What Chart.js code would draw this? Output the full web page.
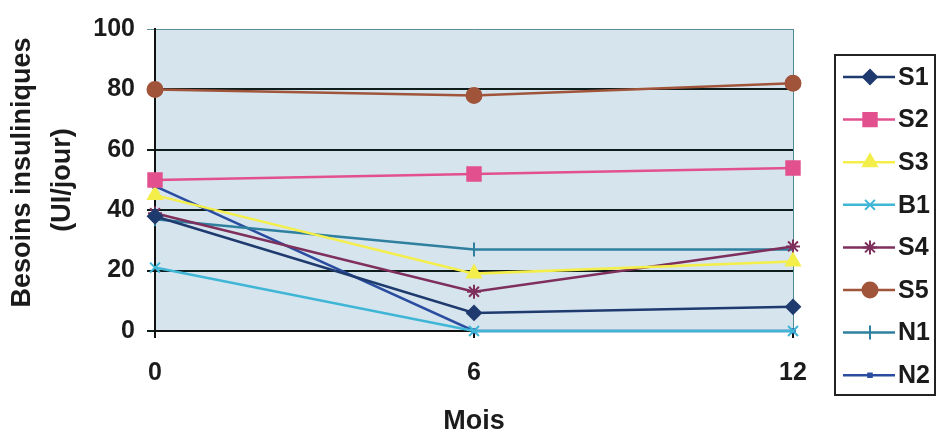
<!DOCTYPE html>
<html>
<head>
<meta charset="utf-8">
<script src="https://cdn.jsdelivr.net/npm/chart.js@4/dist/chart.umd.min.js"></script>
<style>
  html, body { margin: 0; padding: 0; background: #ffffff; }
  #wrap { width: 940px; height: 434px; position: relative; }
</style>
</head>
<body>
<div id="wrap"><canvas id="chart"></canvas></div>
<script>
// ---------------- Data ----------------

const mois = ["0", "6", "12"];
const yTicks = [0, 20, 40, 60, 80, 100];

const S1 = [38, 6, 8];
const S2 = [50, 52, 54];
const S3 = [45, 19, 23];
const B1 = [21, 0, 0];
const S4 = [39, 13, 28];
const S5 = [80, 78, 82];
const N1 = [37, 27, 27];
const N2 = [48, 0, 0];

// ---------------- Series styles ----------------

const series = [
    { label: "S1", data: S1, color: "#1f3a6e", style: "rectRot", radius: 7, rot: 0 },
    { label: "S2", data: S2, color: "#e2508e", style: "rect", radius: 9.5, rot: 0 },
    { label: "S3", data: S3, color: "#f3ee4a", style: "triangle", radius: 8, rot: 0 },
    { label: "B1", data: B1, color: "#3fb6d6", style: "crossRot", radius: 7, rot: 0 },
    { label: "S4", data: S4, color: "#7e2f5c", style: "star", radius: 7, rot: 0 },
    { label: "S5", data: S5, color: "#a0543a", style: "circle", radius: 7.5, rot: 0 },
    { label: "N1", data: N1, color: "#2f7f9e", style: "line", radius: 7, rot: 90 },
    { label: "N2", data: N2, color: "#2a4da0", style: "rect", radius: 2.5, rot: 0 }
];

const FONT = "'Liberation Sans', Arial, sans-serif";
const TXT = "#1b1b1b";

// ---------------- Plugins ----------------

const plotBg = {
    id: "plotBg",
    beforeDraw(chart) {
        const { ctx, chartArea: a } = chart;
        ctx.save();
        ctx.fillStyle = "#d6e4ee";
        ctx.fillRect(a.left, a.top, a.right - a.left, a.bottom - a.top);
        ctx.strokeStyle = "#4f8a94";
        ctx.lineWidth = 1;
        ctx.beginPath();
        ctx.moveTo(a.right + 0.5, a.top);
        ctx.lineTo(a.right + 0.5, a.bottom);
        ctx.stroke();
        ctx.restore();
    }
};

const sideLegend = {
    id: "sideLegend",
    afterDraw(chart) {
        const ctx = chart.ctx;
        ctx.save();
        ctx.strokeStyle = "#222";
        ctx.lineWidth = 2;
        ctx.strokeRect(835, 55, 100, 340);
        ctx.font = "bold 25px " + FONT;
        ctx.textBaseline = "middle";
        series.forEach((s, i) => {
            const y = 77 + i * 42.6;
            ctx.strokeStyle = s.color;
            ctx.fillStyle = s.color;
            ctx.lineWidth = 2.5;
            ctx.beginPath();
            ctx.moveTo(843, y);
            ctx.lineTo(895, y);
            ctx.stroke();
            ctx.lineWidth = 2;
            Chart.helpers.drawPoint(ctx, {
                pointStyle: s.style,
                radius: s.radius,
                rotation: s.rot,
                borderWidth: 2
            }, 870, y);
            ctx.fillStyle = TXT;
            ctx.fillText(s.label, 898, y + 1);
        });
        ctx.restore();
    }
};

// ---------------- Chart ----------------

new Chart(document.getElementById("chart"), {
    type: "line",
    data: {
        labels: mois,
        datasets: series.map(s => ({
            label: s.label,
            data: s.data,
            borderColor: s.color,
            backgroundColor: s.color,
            borderWidth: 2.5,
            pointStyle: s.style,
            pointRadius: s.radius,
            pointRotation: s.rot,
            pointBorderWidth: 2,
            pointHoverRadius: s.radius,
            tension: 0,
            clip: false
        }))
    },
    options: {
        responsive: true,
        maintainAspectRatio: false,
        animation: false,
        layout: { padding: { left: 0, right: 147, top: 29, bottom: 0 } },
        plugins: {
            legend: { display: false },
            tooltip: { enabled: false }
        },
        scales: {
            x: {
                offset: false,
                afterFit: (scale) => { scale.height = 103; },
                grid: {
                    drawOnChartArea: false,
                    drawTicks: true,
                    tickLength: 7,
                    color: "#111",
                    lineWidth: 2
                },
                border: { color: "#111", width: 2 },
                ticks: {
                    color: TXT,
                    padding: 20,
                    maxRotation: 0,
                    font: { family: FONT, size: 25, weight: "bold" }
                },
                title: {
                    display: true,
                    text: "Mois",
                    color: TXT,
                    padding: { top: 0, bottom: 0 },
                    font: { family: FONT, size: 27, weight: "bold", lineHeight: 0.9 }
                }
            },
            y: {
                min: 0,
                max: 100,
                afterFit: (scale) => { scale.width = 155; },
                afterBuildTicks: (scale) => { scale.ticks = yTicks.map(v => ({ value: v })); },
                grid: {
                    drawTicks: true,
                    tickLength: 8,
                    color: (c) => (c.tick && c.tick.value === 100) ? "#5d8f96" : "#0f1c1c",
                    lineWidth: (c) => (c.tick && c.tick.value === 100) ? 1 : 2
                },
                border: { color: "#111", width: 2 },
                ticks: {
                    color: TXT,
                    padding: 12,
                    font: { family: FONT, size: 25, weight: "bold" }
                },
                title: {
                    display: true,
                    text: ["  Besoins insuliniques", "(UI/jour)"],
                    color: TXT,
                    padding: { top: 3, bottom: 0 },
                    font: { family: FONT, size: 27, weight: "bold", lineHeight: "40px" }
                }
            }
        }
    },
    plugins: [plotBg, sideLegend]
});
</script>
</body>
</html>
